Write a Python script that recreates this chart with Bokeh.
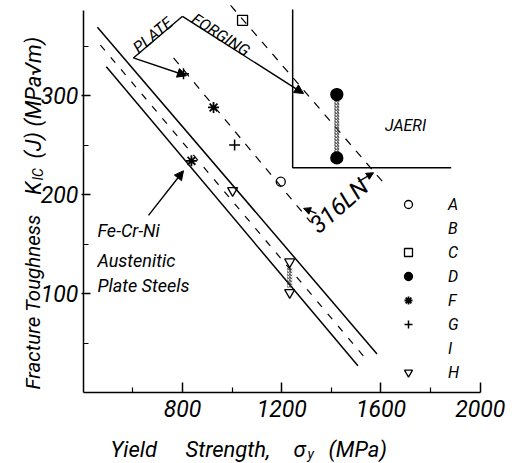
import math
from bokeh.plotting import figure
from bokeh.models import (Range1d, FixedTicker, Label, Arrow, NormalHead,
                          Legend, LegendItem, LinearAxis)
from bokeh.embed import file_html
from bokeh.resources import INLINE

FONT = "Roboto"

# ---- data ----
x_ticks = [800, 1200, 1600, 2000]
x_minor = [600, 1000, 1400, 1800]
y_ticks = [100, 200, 300]
y_minor = [50, 150, 250, 350]

a_x, a_y = [1196], [213]
b_x, b_y = [], []
c_x, c_y = [1042], [376]
d_x, d_y = [1422, 1422], [301, 237]
f_x, f_y = [925, 836], [288, 234]
g_x, g_y = [804, 1010], [322, 250]
i_x, i_y = [], []
h_x, h_y = [1002, 1232, 1232], [204, 132, 101]

# hatched scatter bands
hatch_x = [1422, 1232]
hatch_bottom = [242, 106]
hatch_top = [296, 126]

# Fe-Cr-Ni austenitic plate steels band
feni_upper_x, feni_upper_y = [457, 1584], [369, 39]
feni_mid_x, feni_mid_y = [469, 1539], [351, 34]
feni_lower_x, feni_lower_y = [493, 1507], [329, 27]

# 316LN band (plate / forging)
ln_plate_x, ln_plate_y = [764, 1317], [338, 172]
ln_forging_x, ln_forging_y = [994, 1620], [391, 209]

# JAERI box
jaeri_x, jaeri_y = [1244, 1244, 1883], [387, 227, 227]

p = figure(width=516, height=463, x_range=Range1d(66.4, 2146.2), y_range=Range1d(-71.7, 396.0),
           output_backend="svg", toolbar_location=None,
           x_axis_type=None, y_axis_type=None, min_border=0)
p.outline_line_color = None
p.grid.visible = False

xax = LinearAxis(fixed_location=0, bounds=(400, 2000),
                 ticker=FixedTicker(ticks=x_ticks, minor_ticks=x_minor))
yax = LinearAxis(fixed_location=400, bounds=(0, 386),
                 ticker=FixedTicker(ticks=y_ticks, minor_ticks=y_minor))
for ax in (xax, yax):
    ax.axis_line_width = 1.5
    ax.major_tick_line_width = 1.5
    ax.minor_tick_line_width = 1.2
    ax.major_label_text_font = FONT
    ax.major_label_text_font_style = "italic"
    ax.major_label_text_font_size = "23px"
    ax.major_label_text_color = "black"

xax.major_tick_in = 10
xax.major_tick_out = 0
xax.minor_tick_in = 5
xax.minor_tick_out = 0
xax.major_label_standoff = 7

yax.major_tick_in = 7
yax.major_tick_out = 2
yax.minor_tick_in = 5
yax.minor_tick_out = 0
yax.major_label_standoff = 3

p.add_layout(xax, "below")
p.add_layout(yax, "left")

# lines
p.line(feni_upper_x, feni_upper_y, line_color="black", line_width=1.5)
p.line(feni_lower_x, feni_lower_y, line_color="black", line_width=1.5)
p.line(feni_mid_x, feni_mid_y, line_color="black", line_width=1.2, line_dash="7 9")
p.line(ln_plate_x, ln_plate_y, line_color="black", line_width=1.2, line_dash="8 8")
p.line(ln_forging_x, ln_forging_y, line_color="black", line_width=1.2, line_dash="8 8")
p.line(jaeri_x, jaeri_y, line_color="black", line_width=1.5)

p.vbar(x=hatch_x, bottom=hatch_bottom, top=hatch_top, width=20, fill_color=None,
       line_color=None, hatch_pattern="/", hatch_color="#333333", hatch_scale=3, hatch_weight=1)

sty = dict(line_color="black", line_width=1.3)
ra = p.scatter(a_x, a_y, marker="circle", size=9, fill_color=None, **sty)
rb = p.scatter(b_x, b_y, marker="x", size=9, **sty)
rc = p.scatter(c_x, c_y, marker="square", size=10, fill_color=None, **sty)
rd = p.scatter(d_x, d_y, marker="circle", size=12, fill_color="black", **sty)
rf = p.scatter(f_x, f_y, marker="asterisk", size=11, line_color="black", line_width=1.8)
rg = p.scatter(g_x, g_y, marker="cross", size=11, line_color="black", line_width=1.5)
ri = p.scatter(i_x, i_y, marker="triangle", size=10, fill_color=None, **sty)
rh = p.scatter(h_x, h_y, marker="inverted_triangle", size=10, fill_color=None, **sty)

legend = Legend(items=[LegendItem(label="A", renderers=[ra]),
                       LegendItem(label="B", renderers=[rb]),
                       LegendItem(label="C", renderers=[rc]),
                       LegendItem(label="D", renderers=[rd]),
                       LegendItem(label="F", renderers=[rf]),
                       LegendItem(label="G", renderers=[rg]),
                       LegendItem(label="I", renderers=[ri]),
                       LegendItem(label="H", renderers=[rh])],
                location=(398, 81), glyph_width=20, glyph_height=20, label_height=20,
                spacing=4, label_standoff=30, padding=0, margin=0,
                border_line_color=None, background_fill_alpha=0,
                label_text_font=FONT, label_text_font_style="italic",
                label_text_font_size="16px", label_text_color="black")
p.add_layout(legend)

# arrows
def arrow(x0, y0, x1, y1, head=True, size=9):
    p.add_layout(Arrow(x_start=x0, y_start=y0, x_end=x1, y_end=y1, line_width=1.4,
                       end=NormalHead(size=size, fill_color="black", line_color="black") if head else None))

arrow(602, 338, 800, 380, head=False)
arrow(800, 380, 1288, 302)
arrow(602, 338, 816, 320)
arrow(663, 179, 804, 224)
arrow(1340, 181, 1288, 186, size=7)
arrow(1509, 213, 1570, 222, size=7)

def label(x, y, text, size, angle=0.0, align="left", baseline="alphabetic", style="italic"):
    p.add_layout(Label(x=x, y=y, text=text, angle=angle, text_align=align,
                       text_baseline=baseline, text_font=FONT, text_font_style=style,
                       text_font_size=size, text_color="black"))

label(609.8, 346.3, "PLATE", "16px", angle=math.atan2(41, 49))
label(843.1, 379.0, "FORGING", "16px", angle=-math.atan2(77, 121))
label(1328, 165.7, "316LN", "24px", angle=0.72)
label(1699, 270, "JAERI", "16px", align="center", baseline="middle")
label(457, 164, "Fe-Cr-Ni", "18px")
label(457, 133, "Austenitic", "18px")
label(457, 108, "Plate Steels", "18px")

# axis titles
label(509.8, -57.6, "Yield", "22px")
label(812.1, -57.6, "Strength,", "22px")
label(1247.4, -57.6, "σ", "22px")
label(1303.8, -62.6, "y", "14px")
label(1388.5, -57.6, "(MPa)", "22px")

label(199.4, 3.0, "Fracture Toughness", "20.5px", angle=math.pi / 2)
label(199.4, 213.1, "K", "22px", angle=math.pi / 2, align="right")
label(215.6, 214.1, "IC", "14px", angle=math.pi / 2)
label(199.4, 236.4, "(J) (MPa√m)", "22px", angle=math.pi / 2)

open("out.html", "w").write(file_html(p, INLINE))
